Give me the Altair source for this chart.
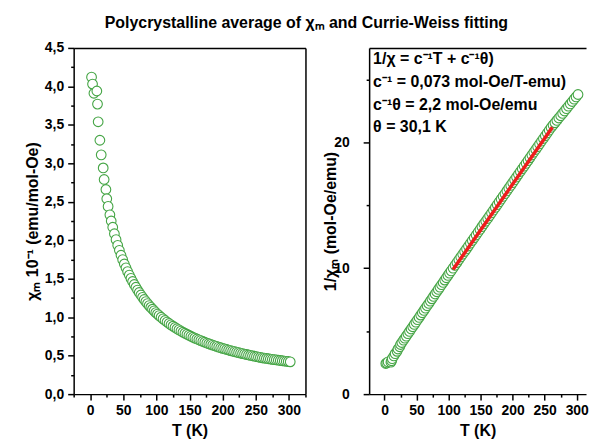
import altair as alt
import pandas as pd

# ---- data ----
T = [2, 3.5, 5.6, 10, 11, 12, 14.6, 16.6, 19.6, 21, 23.7, 25, 27, 29.7, 31.7,
     34, 36.5, 39, 41.5, 44, 46.5, 49, 51.5, 54, 56.5, 59, 61.5, 64, 66.5, 69,
     71.5, 74, 76.5, 79, 81.5, 84, 86.5, 89, 91.5, 94, 96.5, 99, 101.5,
     104, 107, 110, 113, 116, 119, 122, 125, 128, 131, 134, 137, 140, 143, 146,
     149, 152, 155, 158, 161, 164, 167, 170, 173, 176, 179, 182, 185, 188, 191,
     194, 197, 200, 203, 206, 209, 212, 215, 218, 221, 224, 227, 230, 233, 236,
     239, 242, 245, 248, 251, 254, 257, 260, 263, 266, 269, 272, 275, 278, 281,
     284, 287, 290, 293, 296, 299, 302]

# chi_m in units of 10^-1 emu/mol-Oe (left panel)
chi = [4.12, 4.03, 3.91, 3.94, 3.77, 3.54, 3.30, 3.11, 2.94, 2.79, 2.66, 2.54, 2.44, 2.33, 2.25,
       2.169, 2.085, 2.008, 1.934, 1.869, 1.805, 1.748, 1.692, 1.642, 1.592, 1.548, 1.504, 1.464, 1.425, 1.389,
       1.353, 1.321, 1.289, 1.258, 1.230, 1.202, 1.176, 1.151, 1.127, 1.104, 1.082, 1.060, 1.041,
       1.021, 0.999, 0.978, 0.957, 0.937, 0.918, 0.900, 0.883, 0.866, 0.850, 0.835, 0.820, 0.805, 0.791, 0.778,
       0.765, 0.752, 0.740, 0.728, 0.717, 0.706, 0.695, 0.684, 0.674, 0.664, 0.655, 0.646, 0.637, 0.628, 0.620,
       0.611, 0.603, 0.595, 0.588, 0.580, 0.573, 0.566, 0.559, 0.552, 0.546, 0.539, 0.533, 0.527, 0.521, 0.515,
       0.509, 0.503, 0.498, 0.493, 0.487, 0.482, 0.477, 0.472, 0.468, 0.464, 0.460, 0.456, 0.452, 0.448, 0.445,
       0.441, 0.437, 0.434, 0.430, 0.427, 0.424, 0.420]

# 1/chi_m in mol-Oe/emu (right panel)
inv_chi = [2.43, 2.48, 2.56, 2.54, 2.65, 2.82, 3.03, 3.22, 3.40, 3.58, 3.76, 3.94, 4.10, 4.29, 4.44,
           4.61, 4.80, 4.98, 5.17, 5.35, 5.54, 5.72, 5.91, 6.09, 6.28, 6.46, 6.65, 6.83, 7.02, 7.20,
           7.39, 7.57, 7.76, 7.95, 8.13, 8.32, 8.50, 8.69, 8.87, 9.06, 9.24, 9.43, 9.61,
           9.79, 10.01, 10.23, 10.45, 10.67, 10.89, 11.11, 11.33, 11.54, 11.76, 11.98, 12.20, 12.42, 12.64, 12.86,
           13.08, 13.30, 13.52, 13.73, 13.95, 14.17, 14.39, 14.61, 14.83, 15.05, 15.27, 15.49, 15.71, 15.92, 16.14,
           16.36, 16.58, 16.80, 17.02, 17.24, 17.46, 17.68, 17.90, 18.11, 18.33, 18.55, 18.77, 18.99, 19.21, 19.43,
           19.65, 19.87, 20.09, 20.30, 20.52, 20.74, 20.96, 21.18, 21.37, 21.55, 21.74, 21.93, 22.11, 22.30, 22.49,
           22.68, 22.87, 23.05, 23.24, 23.43, 23.61, 23.80]

fit_T = [107, 262]
fit_inv = [9.9, 21.2]

x_ticks = [-25, 0, 25, 50, 75, 100, 125, 150, 175, 200, 225, 250, 275, 300, 325]
left_y_ticks = [i * 0.25 for i in range(19)]
right_y_ticks = [0, 5, 10, 15, 20, 25]

annotation = ["1/\u03c7 = c\u207b\u00b9T + c\u207b\u00b9\u03b8)",
              "c\u207b\u00b9 = 0,073 mol-Oe/T-emu)",
              "c\u207b\u00b9\u03b8 = 2,2 mol-Oe/emu",
              "\u03b8 = 30,1 K"]

title_text = "Polycrystalline average of \u03c7\u2098 and Currie-Weiss fitting"
left_y_title = "\u03c7\u2098 10\u207b\u00b9 (emu/mol-Oe)"
right_y_title = "1/\u03c7\u2098 (mol-Oe/emu)"
x_title = "T (K)"

FONT = "Liberation Sans"
GREEN = "#45a545"
RED = "#ee1c1c"

df = pd.DataFrame({"T": T, "chi": chi, "inv": inv_chi})
fit = pd.DataFrame({"T": fit_T, "inv": fit_inv})

x_axis = alt.Axis(values=x_ticks, title=x_title,
                  labelExpr="datum.value % 50 === 0 ? datum.label : ''",
                  tickSize={"condition": {"test": "datum.value % 50 !== 0", "value": 3}, "value": 6},
                  labelPadding=3, titlePadding=6)
frame_axis_x = alt.Axis(orient="top", labels=False, ticks=False, title=None)
frame_axis_y = alt.Axis(orient="right", labels=False, ticks=False, title=None)

circles = dict(size=95, fill="white", stroke=GREEN, strokeWidth=1.1, opacity=1)

lx_scale = alt.Scale(domain=[-25, 325], nice=False, zero=False)
ly_scale = alt.Scale(domain=[0, 4.5], nice=False)

l_points = alt.Chart(df).mark_circle(**circles).encode(
    x=alt.X("T:Q", scale=lx_scale, axis=x_axis),
    y=alt.Y("chi:Q", scale=ly_scale,
            axis=alt.Axis(values=left_y_ticks, title=left_y_title,
                          labelExpr="(datum.value * 2) % 1 === 0 ? replace(format(datum.value, '.1f'), '.', ',') : ''",
                          tickSize={"condition": {"test": "(datum.value * 2) % 1 !== 0", "value": 3}, "value": 6},
                          labelPadding=4, titlePadding=4)),
)
l_frame = alt.Chart(df).mark_point(opacity=0).encode(
    x=alt.X("T:Q", scale=lx_scale, axis=frame_axis_x),
    y=alt.Y("chi:Q", scale=ly_scale, axis=frame_axis_y),
)
left = alt.layer(l_points, l_frame).resolve_axis(
    x="independent", y="independent"
).properties(width=233, height=348)

rx_scale = alt.Scale(domain=[-24, 314.5], nice=False, zero=False)
ry_scale = alt.Scale(domain=[0, 27.5], nice=False)

r_points = alt.Chart(df).mark_circle(**circles).encode(
    x=alt.X("T:Q", scale=rx_scale, axis=x_axis),
    y=alt.Y("inv:Q", scale=ry_scale,
            axis=alt.Axis(values=right_y_ticks, title=right_y_title,
                          labelExpr="datum.value % 10 === 0 ? datum.label : ''",
                          tickSize={"condition": {"test": "datum.value % 10 !== 0", "value": 3}, "value": 6},
                          labelPadding=14, titlePadding=-5)),
)
r_fit = alt.Chart(fit).mark_line(color=RED, strokeWidth=3.5).encode(
    x=alt.X("T:Q", scale=rx_scale, axis=None),
    y=alt.Y("inv:Q", scale=ry_scale, axis=None),
)
r_top = alt.Chart(fit).mark_point(opacity=0).encode(
    x=alt.X("T:Q", scale=rx_scale, axis=frame_axis_x),
)
r_text = alt.Chart(pd.DataFrame({"k": [0]})).mark_text(
    align="left", baseline="top", font=FONT, fontSize=16, fontWeight="bold",
    lineHeight=23, color="black"
).encode(x=alt.value(4), y=alt.value(3), text=alt.value(annotation))

right = alt.layer(r_points, r_fit, r_text, r_top).resolve_axis(
    x="independent", y="independent"
).properties(width=218, height=348)

chart = alt.hconcat(left, right, spacing=14).properties(
    title=alt.TitleParams(title_text, font=FONT, fontSize=16, fontWeight="bold",
                          anchor="middle", offset=10, color="black"),
    padding={"left": 16, "top": 5, "right": 0, "bottom": 0},
).configure_view(stroke="transparent").configure_axis(
    labelFont=FONT, labelFontSize=14, labelFontWeight="bold", labelColor="black",
    titleFont=FONT, titleFontSize=16, titleFontWeight="bold", titleColor="black",
    domainColor="black", domainWidth=1.5, tickColor="black", tickWidth=1.5, grid=False,
)

chart.save("out.html", embed_options={"renderer": "svg", "actions": False})
